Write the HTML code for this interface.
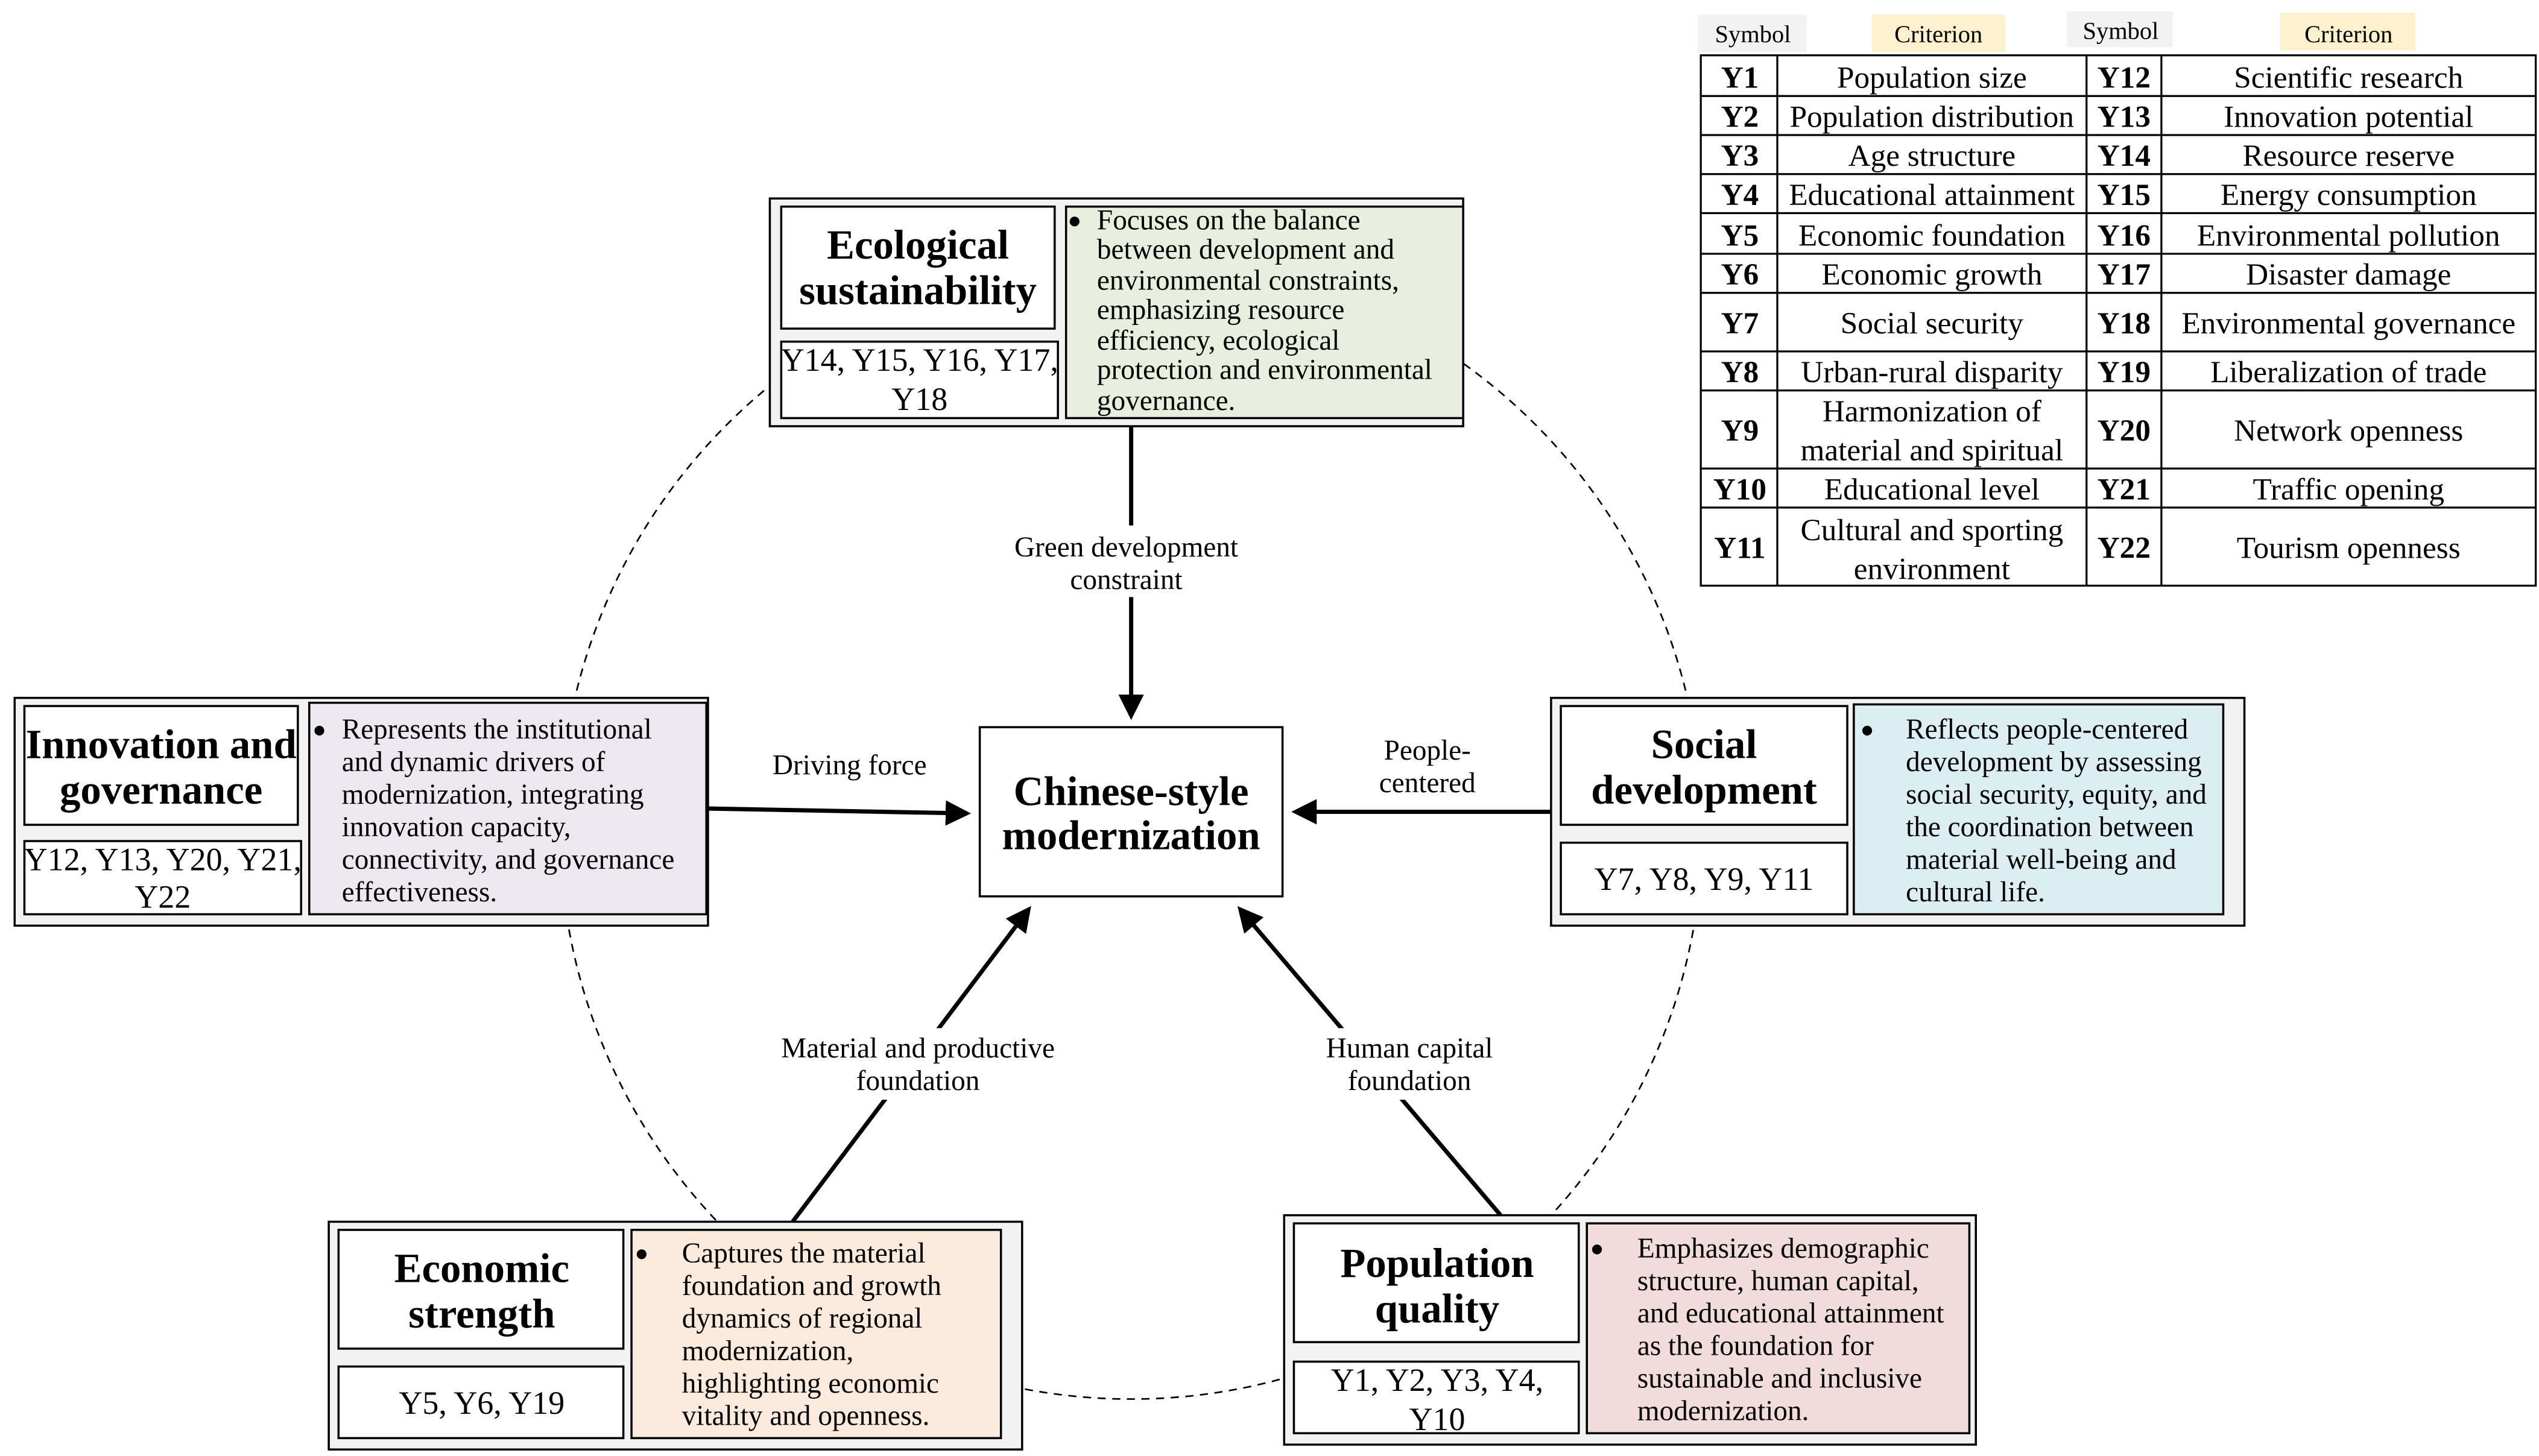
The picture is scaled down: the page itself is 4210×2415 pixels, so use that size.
<!DOCTYPE html>
<html><head><meta charset="utf-8"><style>html,body{margin:0;padding:0;background:#fff}svg{display:block}</style></head>
<body>
<svg width="4210" height="2415" viewBox="0 0 1560 895" preserveAspectRatio="none" xmlns="http://www.w3.org/2000/svg" font-family="'Liberation Serif', serif">
<defs><marker id="ah" markerWidth="6" markerHeight="6" refX="5" refY="3" orient="auto" markerUnits="strokeWidth"><path d="M0,0 L6,3 L0,6 z" fill="#000"/></marker></defs>
<rect width="1560" height="895" fill="#fff"/>
<circle cx="695" cy="509" r="351" fill="none" stroke="#000" stroke-width="1" stroke-dasharray="5,4"/>

<g stroke="#000" stroke-width="2.6" fill="none">
<line x1="695" y1="262" x2="695" y2="440" marker-end="url(#ah)"/>
<line x1="435" y1="497" x2="594" y2="500" marker-end="url(#ah)"/>
<line x1="953" y1="499" x2="796" y2="499" marker-end="url(#ah)"/>
<line x1="487" y1="751" x2="632" y2="559" marker-end="url(#ah)"/>
<line x1="922" y1="747" x2="762" y2="559" marker-end="url(#ah)"/>
</g>
<g font-size="17.5" text-anchor="middle">
<rect x="612" y="323" width="162" height="44" fill="#fff"/>
<text x="692" y="342">Green development</text><text x="692" y="362">constraint</text>
<text x="522" y="476">Driving force</text>
<text x="877" y="467">People-</text><text x="877" y="487">centered</text>
<rect x="470" y="632" width="190" height="44" fill="#fff"/>
<text x="564" y="650">Material and productive</text><text x="564" y="670">foundation</text>
<rect x="806" y="632" width="122" height="44" fill="#fff"/>
<text x="866" y="650">Human capital</text><text x="866" y="670">foundation</text>
</g>

<rect x="602" y="447" width="186" height="104" fill="#fff" stroke="#000" stroke-width="1.3"/>
<g font-size="25.5" font-weight="bold" text-anchor="middle"><text x="695" y="495">Chinese-style</text><text x="695" y="522">modernization</text></g>

<g stroke="#000" stroke-width="1.3">
<rect x="473" y="122" width="426" height="140" fill="#f2f2f2"/>
<rect x="480" y="127" width="168" height="75" fill="#fff"/>
<rect x="480" y="210" width="170" height="47" fill="#fff"/>
<rect x="655" y="127" width="244" height="130" fill="#e9efdf"/>
<rect x="9" y="429" width="426" height="140" fill="#f2f2f2"/>
<rect x="15" y="434" width="168" height="73" fill="#fff"/>
<rect x="15" y="517" width="170" height="45" fill="#fff"/>
<rect x="190" y="432" width="244" height="130" fill="#ece8f0"/>
<rect x="953" y="429" width="426" height="140" fill="#f2f2f2"/>
<rect x="959" y="434" width="176" height="73" fill="#fff"/>
<rect x="959" y="518" width="176" height="44" fill="#fff"/>
<rect x="1139" y="433" width="227" height="129" fill="#ddeef3"/>
<rect x="202" y="751" width="426" height="140" fill="#f2f2f2"/>
<rect x="208" y="756" width="175" height="73" fill="#fff"/>
<rect x="208" y="840" width="175" height="44" fill="#fff"/>
<rect x="388" y="756" width="227" height="128" fill="#fbeadd"/>
<rect x="789" y="747" width="425" height="141" fill="#f2f2f2"/>
<rect x="795" y="752" width="175" height="73" fill="#fff"/>
<rect x="795" y="837" width="175" height="44" fill="#fff"/>
<rect x="975" y="752" width="235" height="129" fill="#f1dcdb"/>
</g>

<g font-size="25.5" font-weight="bold" text-anchor="middle">
<text x="564" y="159">Ecological</text><text x="564" y="187">sustainability</text>
<text x="99" y="466">Innovation and</text><text x="99" y="494">governance</text>
<text x="1047" y="466">Social</text><text x="1047" y="494">development</text>
<text x="296" y="788">Economic</text><text x="296" y="816">strength</text>
<text x="883" y="785">Population</text><text x="883" y="813">quality</text>
</g>
<g font-size="20" text-anchor="middle">
<text x="565" y="228">Y14, Y15, Y16, Y17,</text><text x="565" y="252">Y18</text>
<text x="100" y="535">Y12, Y13, Y20, Y21,</text><text x="100" y="558">Y22</text>
<text x="1047" y="547">Y7, Y8, Y9, Y11</text>
<text x="296" y="869">Y5, Y6, Y19</text>
<text x="883" y="855">Y1, Y2, Y3, Y4,</text><text x="883" y="879">Y10</text>
</g>

<g font-size="17.5">
<g font-size="14">
<text x="656" y="140">●</text><text x="192" y="453">●</text><text x="1143" y="453">●</text><text x="390" y="775">●</text><text x="977" y="772">●</text>
</g>
<text x="674" y="141">Focuses on the balance</text>
<text x="674" y="159">between development and</text>
<text x="674" y="178">environmental constraints,</text>
<text x="674" y="196">emphasizing resource</text>
<text x="674" y="215">efficiency, ecological</text>
<text x="674" y="233">protection and environmental</text>
<text x="674" y="252">governance.</text>

<text x="210" y="454">Represents the institutional</text>
<text x="210" y="474">and dynamic drivers of</text>
<text x="210" y="494">modernization, integrating</text>
<text x="210" y="514">innovation capacity,</text>
<text x="210" y="534">connectivity, and governance</text>
<text x="210" y="554">effectiveness.</text>

<text x="1171" y="454">Reflects people-centered</text>
<text x="1171" y="474">development by assessing</text>
<text x="1171" y="494">social security, equity, and</text>
<text x="1171" y="514">the coordination between</text>
<text x="1171" y="534">material well-being and</text>
<text x="1171" y="554">cultural life.</text>

<text x="419" y="776">Captures the material</text>
<text x="419" y="796">foundation and growth</text>
<text x="419" y="816">dynamics of regional</text>
<text x="419" y="836">modernization,</text>
<text x="419" y="856">highlighting economic</text>
<text x="419" y="876">vitality and openness.</text>

<text x="1006" y="773">Emphasizes demographic</text>
<text x="1006" y="793">structure, human capital,</text>
<text x="1006" y="813">and educational attainment</text>
<text x="1006" y="833">as the foundation for</text>
<text x="1006" y="853">sustainable and inclusive</text>
<text x="1006" y="873">modernization.</text>
</g>

<rect x="1043" y="9" width="67" height="23" fill="#f2f2f2"/>
<rect x="1150" y="9" width="82" height="23" fill="#fdf0cc"/>
<rect x="1270" y="7" width="65" height="22" fill="#f2f2f2"/>
<rect x="1401" y="8" width="83" height="23" fill="#fdf0cc"/>
<g font-size="15" text-anchor="middle">
<text x="1077" y="26">Symbol</text><text x="1191" y="26">Criterion</text>
<text x="1303" y="24">Symbol</text><text x="1443" y="26">Criterion</text>
</g>
<g stroke="#000" stroke-width="1.2" fill="none">
<rect x="1045" y="34" width="513" height="326"/>
<line x1="1092" y1="34" x2="1092" y2="360"/><line x1="1282" y1="34" x2="1282" y2="360"/><line x1="1328" y1="34" x2="1328" y2="360"/>
<line x1="1045" y1="59" x2="1558" y2="59"/><line x1="1045" y1="83" x2="1558" y2="83"/><line x1="1045" y1="107" x2="1558" y2="107"/>
<line x1="1045" y1="131" x2="1558" y2="131"/><line x1="1045" y1="156" x2="1558" y2="156"/><line x1="1045" y1="180" x2="1558" y2="180"/>
<line x1="1045" y1="216" x2="1558" y2="216"/><line x1="1045" y1="240" x2="1558" y2="240"/><line x1="1045" y1="288" x2="1558" y2="288"/>
<line x1="1045" y1="312" x2="1558" y2="312"/>
</g>
<g font-size="19" text-anchor="middle">
<g font-weight="bold">
<text x="1069" y="54">Y1</text><text x="1069" y="78">Y2</text><text x="1069" y="102">Y3</text><text x="1069" y="126">Y4</text>
<text x="1069" y="151">Y5</text><text x="1069" y="175">Y6</text><text x="1069" y="205">Y7</text><text x="1069" y="235">Y8</text>
<text x="1069" y="271">Y9</text><text x="1069" y="307">Y10</text><text x="1069" y="343">Y11</text>
<text x="1305" y="54">Y12</text><text x="1305" y="78">Y13</text><text x="1305" y="102">Y14</text><text x="1305" y="126">Y15</text>
<text x="1305" y="151">Y16</text><text x="1305" y="175">Y17</text><text x="1305" y="205">Y18</text><text x="1305" y="235">Y19</text>
<text x="1305" y="271">Y20</text><text x="1305" y="307">Y21</text><text x="1305" y="343">Y22</text>
</g>
<text x="1187" y="54">Population size</text><text x="1187" y="78">Population distribution</text><text x="1187" y="102">Age structure</text>
<text x="1187" y="126">Educational attainment</text><text x="1187" y="151">Economic foundation</text><text x="1187" y="175">Economic growth</text>
<text x="1187" y="205">Social security</text><text x="1187" y="235">Urban-rural disparity</text>
<text x="1187" y="259">Harmonization of</text><text x="1187" y="283">material and spiritual</text>
<text x="1187" y="307">Educational level</text>
<text x="1187" y="332">Cultural and sporting</text><text x="1187" y="356">environment</text>
<text x="1443" y="54">Scientific research</text><text x="1443" y="78">Innovation potential</text><text x="1443" y="102">Resource reserve</text>
<text x="1443" y="126">Energy consumption</text><text x="1443" y="151">Environmental pollution</text><text x="1443" y="175">Disaster damage</text>
<text x="1443" y="205">Environmental governance</text><text x="1443" y="235">Liberalization of trade</text>
<text x="1443" y="271">Network openness</text><text x="1443" y="307">Traffic opening</text><text x="1443" y="343">Tourism openness</text>
</g>
</svg>
</body></html>
